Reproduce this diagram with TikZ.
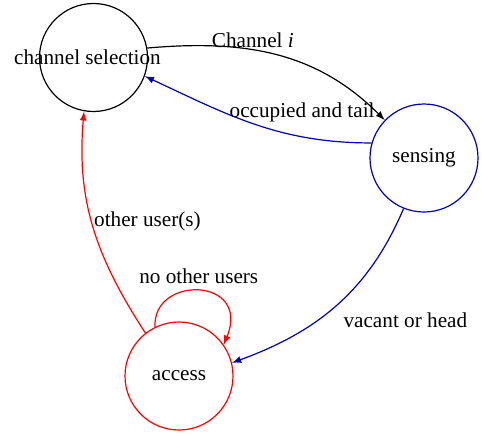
\documentclass[tikz,border=0pt]{standalone}
\usepackage{fontspec}
\setmainfont{Liberation Serif}
\usetikzlibrary{arrows}
\definecolor{senseblue}{RGB}{0,0,190}

\begin{document}
\begin{tikzpicture}[x=0.5pt,y=-0.5pt,>=latex,
  state/.style={draw,circle,semithick,minimum size=54pt,inner sep=0pt},
  every node/.style={font=\fontsize{10.6}{12}\selectfont}]
\useasboundingbox (0,0) rectangle (482,435);

% States
\node[state] (chsel) at (93.5,57.5) {\makebox[0pt]{\kern-6pt channel selection}};
\node[state,senseblue] (sensing) at (424,158) {\textcolor{black}{sensing}};
\node[state,red] (access) at (179,376) {\textcolor{black}{access}};

% Transitions
\draw[semithick,->] (chsel.10) to[out=5,in=135]
  node[pos=0.4,above=-2.5pt] {Channel \textit{i}} (sensing.136);
\draw[semithick,senseblue,->] (sensing.164) to[out=180,in=-25]
  node[pos=0.28,above=4pt,text=black] {occupied and tail} (chsel.-20);
\draw[semithick,senseblue,->] (sensing.-112) to[out=-113,in=20]
  node[pos=0.5,below right,text=black] {vacant or head} (access.14);
\draw[semithick,red,->] (access.128) to[out=123,in=-95]
  node[pos=0.53,right,inner sep=1pt,text=black] {other user(s)} (chsel.-100);

% Self loop
\draw[semithick,red,->] (access.116) .. controls +(-3,-52) and +(28,-68) .. (access.35)
  node[midway,above=0pt,text=black] {no other users};
\end{tikzpicture}
\end{document}
